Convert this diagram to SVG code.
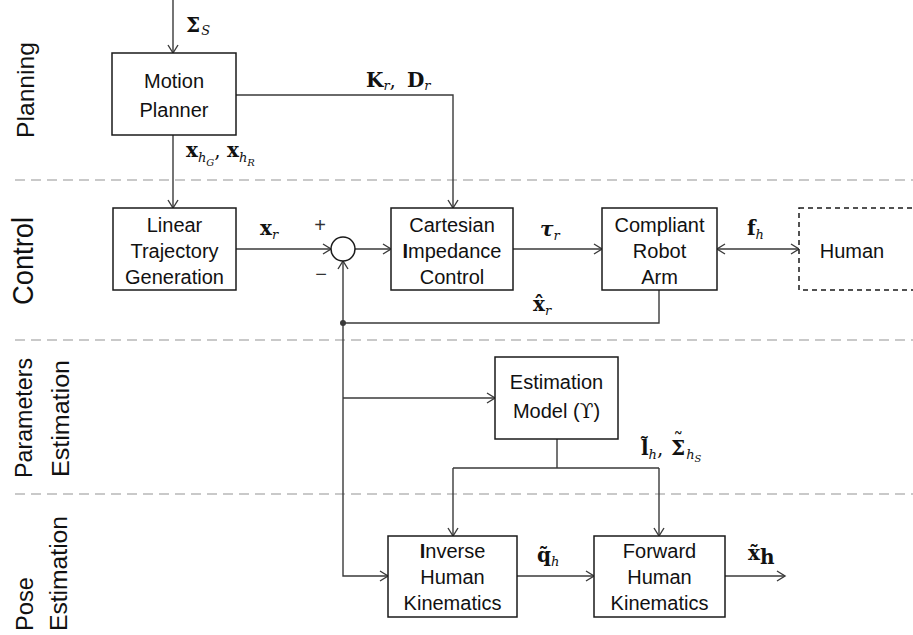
<svg xmlns="http://www.w3.org/2000/svg" width="913" height="635" viewBox="0 0 913 635">
<defs>
<style>
.sep{stroke:#c9c9c9;stroke-width:2;stroke-dasharray:10 6;fill:none}
.box{fill:#fff;stroke:#1a1a1a;stroke-width:1.5}
.hbox{fill:#fff;stroke:#1a1a1a;stroke-width:1.5;stroke-dasharray:5 4}
.ln{fill:none;stroke:#3a3a3a;stroke-width:1.4}
.bt{font-family:"Liberation Sans",Arial,sans-serif;font-size:20px;fill:#111;text-anchor:middle}
.sec{font-family:"Liberation Sans",Arial,sans-serif;fill:#111}
.m{font-family:"DejaVu Serif","Liberation Serif",serif;fill:#111}
.mb{font-size:20px;font-weight:bold}
.mbi{font-size:20px;font-weight:bold;font-style:italic}
.mn{font-size:20px}
.si{font-size:13px;font-style:italic;font-weight:normal}
.ssi{font-size:10px;font-style:italic;font-weight:normal}
.pm{font-family:"Liberation Sans",Arial,sans-serif;font-size:20px;fill:#333;text-anchor:middle}
</style>
<marker id="ah" markerWidth="12" markerHeight="12" refX="10" refY="6" orient="auto-start-reverse" markerUnits="userSpaceOnUse">
<path d="M2,1 L10,6 L2,11" fill="none" stroke="#3a3a3a" stroke-width="1.4"/>
</marker>
</defs>
<rect width="913" height="635" fill="#fff"/>

<g id="separators">
<line class="sep" x1="15" y1="180" x2="913" y2="180"/>
<line class="sep" x1="15" y1="340" x2="913" y2="340"/>
<line class="sep" x1="15" y1="494" x2="913" y2="494"/>
</g>

<g id="section-labels">
<text class="sec" font-size="24" text-anchor="middle" textLength="96" lengthAdjust="spacingAndGlyphs" transform="translate(34,90) rotate(-90)">Planning</text>
<text class="sec" font-size="30" text-anchor="middle" textLength="88" lengthAdjust="spacingAndGlyphs" transform="translate(33,261) rotate(-90)">Control</text>
<text class="sec" font-size="23" text-anchor="middle" textLength="120" lengthAdjust="spacingAndGlyphs" transform="translate(32,418) rotate(-90)">Parameters</text>
<text class="sec" font-size="23" text-anchor="middle" textLength="117" lengthAdjust="spacingAndGlyphs" transform="translate(69,418.5) rotate(-90)">Estimation</text>
<text class="sec" font-size="23" textLength="54" lengthAdjust="spacingAndGlyphs" transform="translate(33,631) rotate(-90)">Pose</text>
<text class="sec" font-size="23" textLength="115" lengthAdjust="spacingAndGlyphs" transform="translate(67,631) rotate(-90)">Estimation</text>
</g>

<g id="connectors">
<path class="ln" d="M173,0 V53" marker-end="url(#ah)"/>
<path class="ln" d="M236,95 H453 V208" marker-end="url(#ah)"/>
<path class="ln" d="M173,135 V208" marker-end="url(#ah)"/>
<path class="ln" d="M236,249 H331" marker-end="url(#ah)"/>
<path class="ln" d="M355,249 H391" marker-end="url(#ah)"/>
<path class="ln" d="M513,249 H602" marker-end="url(#ah)"/>
<path class="ln" d="M717,249 H799" marker-start="url(#ah)" marker-end="url(#ah)"/>
<path class="ln" d="M659,290 V323 H343 V261" marker-end="url(#ah)"/>
<path class="ln" d="M343,323 V576 H388" marker-end="url(#ah)"/>
<path class="ln" d="M343,398 H495" marker-end="url(#ah)"/>
<path class="ln" d="M557,439 V468 M453,468 H659"/>
<path class="ln" d="M453,468 V536" marker-end="url(#ah)"/>
<path class="ln" d="M659,468 V536" marker-end="url(#ah)"/>
<path class="ln" d="M517,576 H594" marker-end="url(#ah)"/>
<path class="ln" d="M725,576 H785" marker-end="url(#ah)"/>
<circle cx="343" cy="323" r="3" fill="#3a3a3a"/>
</g>

<g id="motion-planner">
<rect class="box" x="112" y="53" width="124" height="82"/>
<text class="bt" x="174" y="88" font-size="21">Motion</text>
<text class="bt" x="174" y="117" font-size="21">Planner</text>
</g>

<g id="linear-trajectory">
<rect class="box" x="113" y="208" width="123" height="82"/>
<text class="bt" x="174.5" y="232">Linear</text>
<text class="bt" x="174.5" y="258">Trajectory</text>
<text class="bt" x="174.5" y="284">Generation</text>
</g>

<g id="sum">
<circle cx="343" cy="249" r="12" fill="#fff" stroke="#1a1a1a" stroke-width="1.5"/>
<text class="pm" x="320" y="232">+</text>
<text class="pm" x="321" y="281">−</text>
</g>

<g id="cartesian">
<rect class="box" x="391" y="208" width="122" height="82"/>
<text class="bt" x="452" y="232">Cartesian</text>
<text class="bt" x="452" y="258"><tspan font-weight="bold">I</tspan>mpedance</text>
<text class="bt" x="452" y="284">Control</text>
</g>

<g id="robot-arm">
<rect class="box" x="602" y="208" width="115" height="82"/>
<text class="bt" x="659.5" y="232">Compliant</text>
<text class="bt" x="659.5" y="258">Robot</text>
<text class="bt" x="659.5" y="284">Arm</text>
</g>

<g id="human">
<rect class="hbox" x="799" y="208" width="130" height="82"/>
<text class="bt" x="852" y="258" font-size="24">Human</text>
</g>

<g id="estimation-model">
<rect class="box" x="495" y="357" width="123" height="82"/>
<text class="bt" x="556.5" y="389">Estimation</text>
<text class="bt" x="556.5" y="418">Model (<tspan font-family="DejaVu Serif,serif">ϒ</tspan>)</text>
</g>

<g id="inverse-kinematics">
<rect class="box" x="388" y="536" width="129" height="81"/>
<text class="bt" x="452.5" y="558"><tspan font-weight="bold">I</tspan>nverse</text>
<text class="bt" x="452.5" y="584">Human</text>
<text class="bt" x="452.5" y="610">Kinematics</text>
</g>

<g id="forward-kinematics">
<rect class="box" x="594" y="536" width="131" height="81"/>
<text class="bt" x="659.5" y="558">Forward</text>
<text class="bt" x="659.5" y="584">Human</text>
<text class="bt" x="659.5" y="610">Kinematics</text>
</g>

<g id="labels">
<text class="m" x="186" y="32"><tspan class="mb">Σ</tspan><tspan class="si" dx="1" dy="3">S</tspan></text>
<text class="m" x="366" y="87"><tspan class="mb">K</tspan><tspan class="si" dy="3">r</tspan><tspan class="mn" dy="-3">,</tspan><tspan class="mb" x="407">D</tspan><tspan class="si" dy="3">r</tspan></text>
<text class="m" x="186" y="157"><tspan class="mb">x</tspan><tspan class="si" dy="5">h</tspan><tspan class="ssi" dy="4">G</tspan><tspan class="mn" dy="-9">,</tspan><tspan class="mb" x="227">x</tspan><tspan class="si" dy="5">h</tspan><tspan class="ssi" dy="4">R</tspan></text>
<text class="m" x="260" y="235"><tspan class="mb">x</tspan><tspan class="si" dy="4">r</tspan></text>
<text class="m" x="540" y="236"><tspan class="mbi">τ</tspan><tspan class="si" dy="4">r</tspan></text>
<text class="m" x="747" y="235"><tspan class="mb">f</tspan><tspan class="si" dy="4">h</tspan></text>
<text class="m" x="533" y="311"><tspan class="mb">x̂</tspan><tspan class="si" dy="4">r</tspan></text>
<text class="m" x="641" y="455"><tspan class="mb">l̃</tspan><tspan class="si" dy="4">h</tspan><tspan class="mn" dy="-4">,</tspan><tspan class="mb" x="671">Σ</tspan><tspan class="mn" dx="-12" dy="-8">˜</tspan><tspan class="si" dx="3" dy="12">h</tspan><tspan class="ssi" dy="3">S</tspan></text>
<text class="m" x="537" y="562"><tspan class="mb">q̃</tspan><tspan class="si" dy="4">h</tspan></text>
<text class="m" x="748" y="560"><tspan class="mb">x̃</tspan><tspan class="mb" font-size="14" dy="4">h</tspan></text>
</g>
</svg>
